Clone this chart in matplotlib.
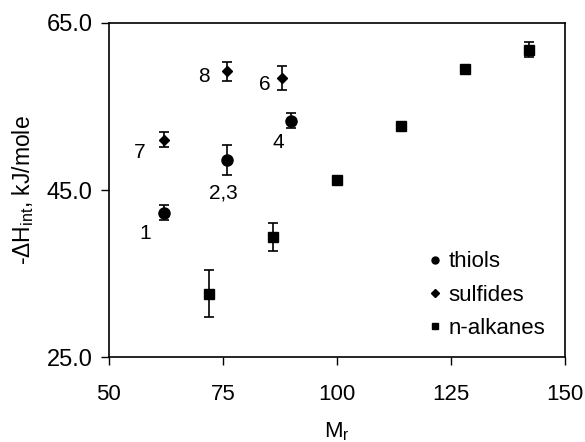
import matplotlib
matplotlib.use("Agg")
import matplotlib.pyplot as plt
from matplotlib.lines import Line2D

plt.rcParams["font.family"] = ["Liberation Sans", "DejaVu Sans"]
plt.rcParams["mathtext.default"] = "regular"

# thiols
thiol_x = [62, 76, 90]
thiol_y = [42.3, 48.6, 53.3]
thiol_err = [0.9, 1.8, 0.9]

# sulfides
sulf_x = [62, 76, 88]
sulf_y = [51.0, 59.2, 58.4]
sulf_err = [0.9, 1.1, 1.4]

# n-alkanes
alk_x = [72, 86, 100, 114, 128, 142]
alk_y = [32.6, 39.4, 46.2, 52.7, 59.5, 61.8]
alk_err = [2.8, 1.7, 0.3, 0.3, 0.3, 0.9]

# point labels
lab_text = ["8", "6", "7", "4", "2,3", "1"]
lab_x = [70.8, 84.2, 56.8, 87.1, 75.2, 57.9]
lab_y = [58.65, 57.6, 49.55, 50.75, 44.6, 39.85]

fig = plt.figure(figsize=(5.85, 4.42), dpi=100)
ax = fig.add_axes([0.186, 0.192, 0.78, 0.756])

eb = dict(color="black", capsize=3.5, elinewidth=1.2, capthick=1.2, linestyle="none")
ax.errorbar(thiol_x, thiol_y, yerr=thiol_err, marker="o", markersize=8, **eb)
ax.errorbar(sulf_x, sulf_y, yerr=sulf_err, marker="D", markersize=5.3, **eb)
ax.errorbar(alk_x, alk_y, yerr=alk_err, marker="s", markersize=7.7, **eb)

for t, x, y in zip(lab_text, lab_x, lab_y):
    ax.text(x, y, t, fontsize=15, ha="center", va="center")

ax.set_xlim(50, 150)
ax.set_ylim(25, 65)
ax.set_xticks([50, 75, 100, 125, 150])
ax.set_yticks([25, 45, 65])
ax.set_yticklabels(["25.0", "45.0", "65.0"])
ax.tick_params(axis="x", direction="out", length=5.5, width=1.0, labelsize=16, pad=14)
ax.tick_params(axis="y", direction="out", length=5.8, width=1.0, labelsize=17, pad=6)
for s in ax.spines.values():
    s.set_linewidth(1.2)

ax.set_xlabel("M$_r$", fontsize=16)
ax.xaxis.set_label_coords(0.5, -0.19)
ax.set_ylabel("-ΔH$_{int}$, kJ/mole", fontsize=16.5)
ax.yaxis.set_label_coords(-0.16, 0.5)

handles = [
    Line2D([], [], color="black", marker="o", markersize=5, linestyle="none"),
    Line2D([], [], color="black", marker="D", markersize=3.8, linestyle="none"),
    Line2D([], [], color="black", marker="s", markersize=5, linestyle="none"),
]
ax.legend(handles, ["thiols", "sulfides", "n-alkanes"], loc="lower right",
          bbox_to_anchor=(1.0, -0.005), frameon=False, fontsize=16,
          handletextpad=0.2, handlelength=0.8, labelspacing=0.55)

fig.savefig("out.png", dpi=100)
